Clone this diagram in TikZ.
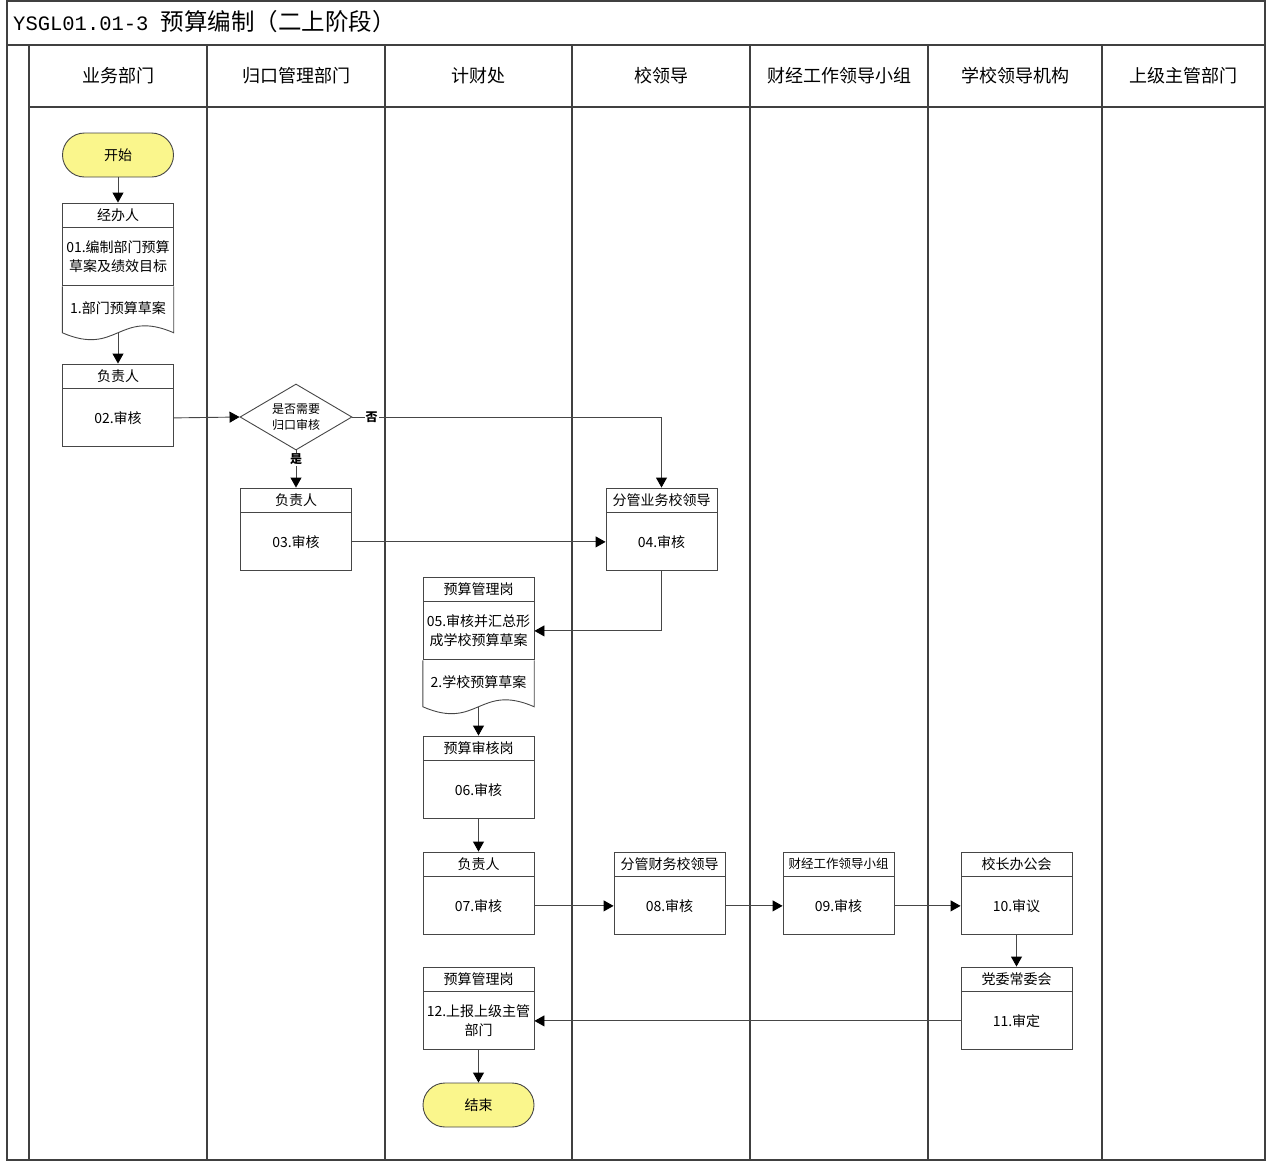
\documentclass[tikz,border=0pt]{standalone}
\usepackage{fontspec}
\setmainfont{Noto Sans CJK SC}
\newfontfamily\monofont{Liberation Mono}
\usetikzlibrary{shapes}
\usetikzlibrary{positioning}
\usetikzlibrary{arrows.meta}
\definecolor{termyellow}{RGB}{250,246,140}
\definecolor{linegray}{RGB}{70,70,70}
\tikzset{
    frame/.style = {line width=1.2pt,draw=black!75},
    lanehead/.style = {inner sep=0pt,font=\fontsize{18}{20}\selectfont},
    tasktop/.style = {rectangle, draw=linegray, line width=0.9pt, minimum width=111pt, minimum height=24pt, inner sep=0pt, font=\fontsize{14}{16}\selectfont},
    taskbody/.style = {rectangle, draw=linegray, line width=0.9pt, minimum width=111pt, minimum height=58pt, inner sep=0pt, align=center, font=\fontsize{14}{19}\selectfont},
    docpart/.style = {rectangle, minimum width=111pt, minimum height=46pt, inner sep=0pt, font=\fontsize{14}{16}\selectfont},
    docline/.style = {line width=0.9pt, draw=linegray},
    startend/.style = {rectangle, rounded corners=22pt, draw=linegray, line width=0.9pt, fill=termyellow, minimum width=111pt, minimum height=44pt, font=\fontsize{14}{16}\selectfont},
    decide/.style = {diamond, aspect=1.7, draw=linegray, line width=0.9pt, minimum width=112pt, minimum height=66pt, inner sep=0pt, align=center, font=\fontsize{12}{16}\selectfont},
    edgen/.style = {-{Triangle[length=10pt,width=11pt,color=black]}, line width=0.9pt, draw=linegray},
    yesno/.style = {fill=white, inner sep=1pt, font=\bfseries\fontsize{12}{14}\selectfont}
}

\begin{document}
\begin{tikzpicture}[x=1pt,y=-1pt]
  \useasboundingbox (0,0) rectangle (1267,1162);

  % frame and lanes
  \draw[frame] (7,1) rectangle (1265,1160);
  \draw[frame] (7,45) -- (1265,45);
  \draw[frame] (29,107) -- (1265,107);
  \draw[frame] (29,45) -- (29,1160);
  \draw[frame] (207,45) -- (207,1160);
  \draw[frame] (385,45) -- (385,1160);
  \draw[frame] (572,45) -- (572,1160);
  \draw[frame] (750,45) -- (750,1160);
  \draw[frame] (928,45) -- (928,1160);
  \draw[frame] (1102,45) -- (1102,1160);

  \node[anchor=west, inner sep=0pt, font=\fontsize{23.5}{26}\selectfont] (title) at (13,22) {{\monofont\fontsize{20.5}{24}\selectfont YSGL01.01-3 }预算编制（二上阶段）};

  \node[lanehead] (lane1) at (118,76) {业务部门};
  \node[lanehead] (lane2) at (296,76) {归口管理部门};
  \node[lanehead] (lane3) at (478.5,76) {计财处};
  \node[lanehead] (lane4) at (661,76) {校领导};
  \node[lanehead] (lane5) at (839,76) {财经工作领导小组};
  \node[lanehead] (lane6) at (1015,76) {学校领导机构};
  \node[lanehead] (lane7) at (1183.5,76) {上级主管部门};

  % steps
  \node[startend] (start) at (118,155) {开始};

  \node[tasktop] (hd01) at (118,215) {经办人};
  \node[taskbody, below=0pt of hd01] (bd01) {01.编制部门预算\\草案及绩效目标};
  \node[docpart, below=0pt of bd01] (dp01) {\raisebox{4pt}{1.部门预算草案}};
  \draw[docline] (dp01.north west) -- (dp01.south west) .. controls +(55,24) and +(-55,-24) .. (dp01.south east) -- (dp01.north east);

  \node[tasktop] (hd02) at (118,376) {负责人};
  \node[taskbody, below=0pt of hd02] (bd02) {02.审核};

  \node[decide] (dec) at (296,417) {是否需要\\归口审核};

  \node[tasktop] (hd03) at (296,500) {负责人};
  \node[taskbody, below=0pt of hd03] (bd03) {03.审核};

  \node[tasktop] (hd04) at (661.5,500) {分管业务校领导};
  \node[taskbody, below=0pt of hd04] (bd04) {04.审核};

  \node[tasktop] (hd05) at (478.5,589) {预算管理岗};
  \node[taskbody, below=0pt of hd05] (bd05) {05.审核并汇总形\\成学校预算草案};
  \node[docpart, below=0pt of bd05] (dp05) {\raisebox{4pt}{2.学校预算草案}};
  \draw[docline] (dp05.north west) -- (dp05.south west) .. controls +(55,24) and +(-55,-24) .. (dp05.south east) -- (dp05.north east);

  \node[tasktop] (hd06) at (478.5,748) {预算审核岗};
  \node[taskbody, below=0pt of hd06] (bd06) {06.审核};

  \node[tasktop] (hd07) at (478.5,864) {负责人};
  \node[taskbody, below=0pt of hd07] (bd07) {07.审核};

  \node[tasktop] (hd08) at (669.5,864) {分管财务校领导};
  \node[taskbody, below=0pt of hd08] (bd08) {08.审核};

  \node[tasktop, font=\fontsize{12.5}{14}\selectfont] (hd09) at (838.5,864) {财经工作领导小组};
  \node[taskbody, below=0pt of hd09] (bd09) {09.审核};

  \node[tasktop] (hd10) at (1016.5,864) {校长办公会};
  \node[taskbody, below=0pt of hd10] (bd10) {10.审议};

  \node[tasktop] (hd11) at (1016.5,979) {党委常委会};
  \node[taskbody, below=0pt of hd11] (bd11) {11.审定};

  \node[tasktop] (hd12) at (478.5,979) {预算管理岗};
  \node[taskbody, below=0pt of hd12] (bd12) {12.上报上级主管\\部门};

  \node[startend] (stop) at (478.5,1105) {结束};

  % connectors
  \draw[edgen] (start) -- (hd01);
  \draw[edgen] (dp01.south) -- (hd02.north);
  \draw[edgen] (bd02.east) -- (dec.west);
  \draw[edgen] (dec.east) -| (hd04.north) node[yesno, pos=0.031] {否};
  \draw[edgen] (dec.south) -- (hd03.north) node[yesno, pos=0.24] {是};
  \draw[edgen] (bd03.east) -- (bd04.west);
  \draw[edgen] (bd04.south) |- (bd05.east);
  \draw[edgen] (dp05.south) -- (hd06.north);
  \draw[edgen] (bd06.south) -- (hd07.north);
  \draw[edgen] (bd07.east) -- (bd08.west);
  \draw[edgen] (bd08.east) -- (bd09.west);
  \draw[edgen] (bd09.east) -- (bd10.west);
  \draw[edgen] (bd10.south) -- (hd11.north);
  \draw[edgen] (bd11.west) -- (bd12.east);
  \draw[edgen] (bd12.south) -- (stop.north);
\end{tikzpicture}
\end{document}
